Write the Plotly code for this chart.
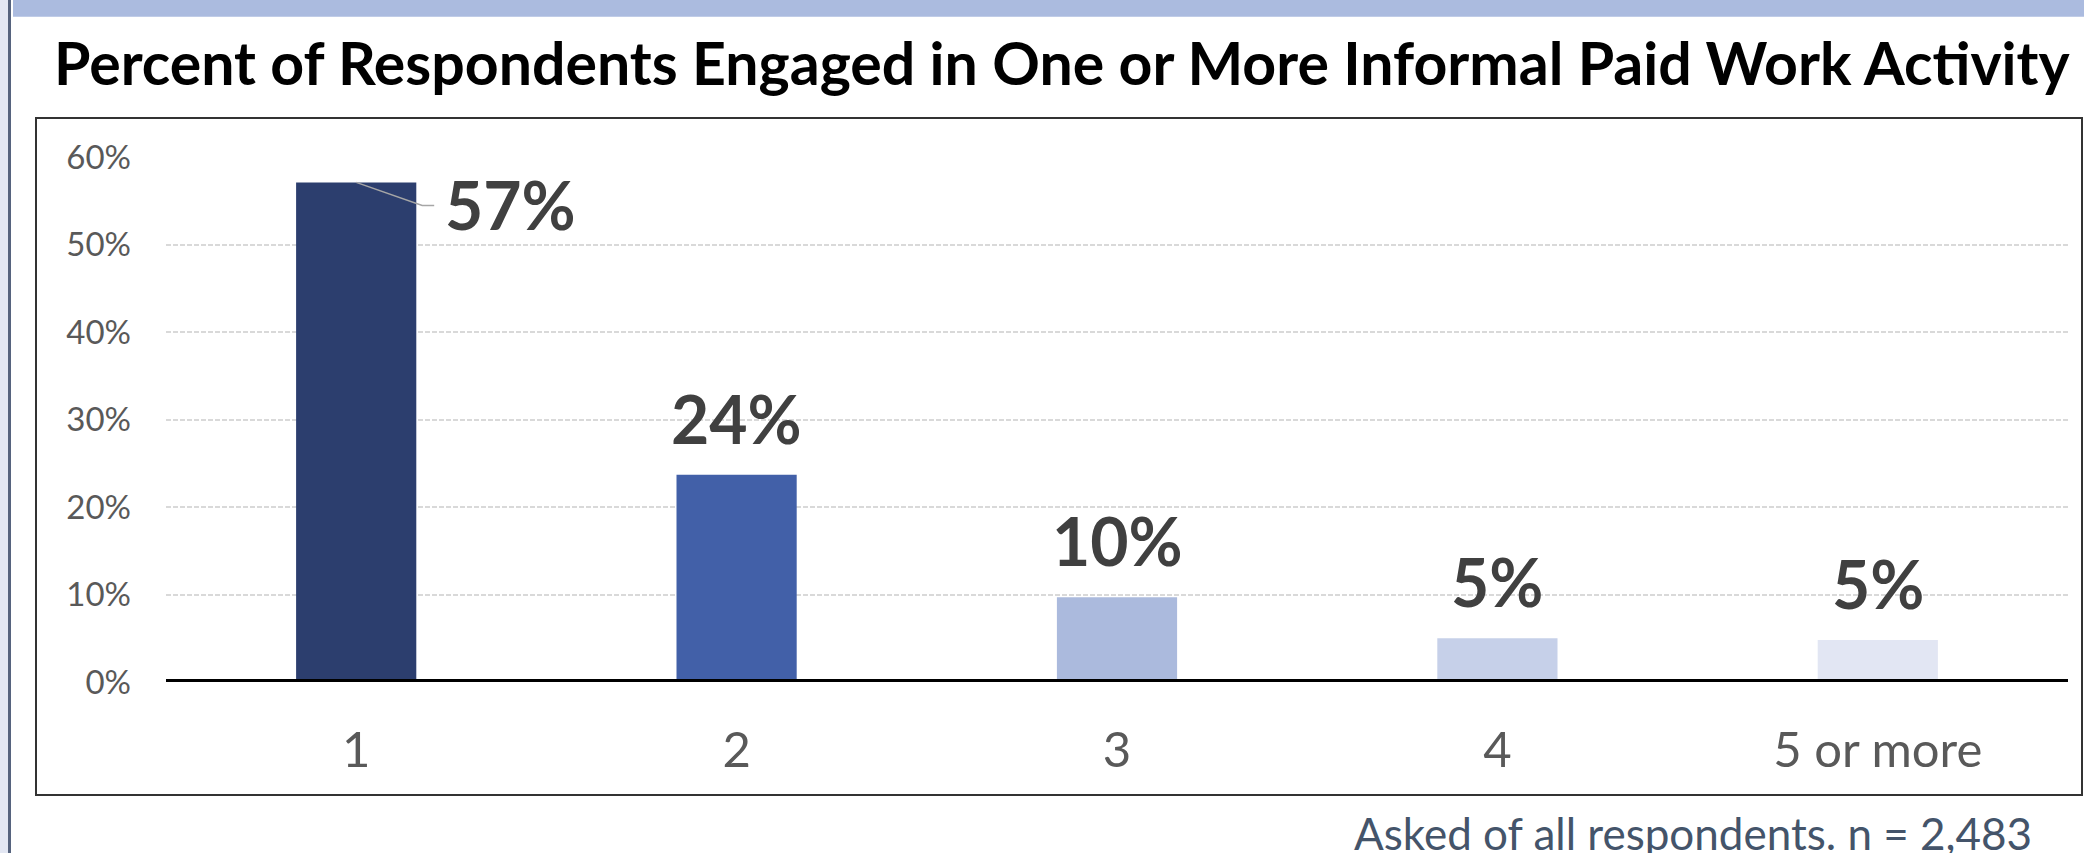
import plotly.graph_objects as go

# Survey results: number of informal paid work activities
categories = ["1", "2", "3", "4", "5 or more"]
percent = [57.1, 23.7, 9.7, 5.0, 4.8]
bar_colors = ["#2c3e6e", "#4260a8", "#abbadd", "#c6d0e9", "#e2e6f3"]
y_ticks = [0, 10, 20, 30, 40, 50, 60]
y_tick_text = [f"{v}%" for v in y_ticks]

title_text = "Percent of Respondents Engaged in One or More Informal Paid Work Activity"
note_text = "Asked of all respondents. n = 2,483"

W, H = 2084, 853
M_L, M_R, M_T, M_B = 166, 16, 157, 171
PW, PH = W - M_L - M_R, H - M_T - M_B


def px_x(px):
    return (px - M_L) / PW


def px_y(py):
    return (H - M_B - py) / PH


FONT = "Lato"

fig = go.Figure(
    go.Bar(
        x=categories,
        y=percent,
        marker=dict(color=bar_colors, line=dict(width=0)),
        width=0.316,
        hoverinfo="skip",
    )
)

annotations = []
# value labels above bars (first one sits to the right with a leader line);
# positions use the category index so numeric-looking names are not misread
for i, val in enumerate(percent):
    label = f"{round(val)}%"
    if i == 0:
        annotations.append(dict(
            x=i, y=val, xref="x", yref="y", text=f"<b>{label}</b>",
            showarrow=False, xanchor="left", yanchor="bottom",
            xshift=88, yshift=-63, borderpad=0,
            font=dict(family=FONT, size=66, color="#404040"),
        ))
    else:
        annotations.append(dict(
            x=i, y=val, xref="x", yref="y", text=f"<b>{label}</b>",
            showarrow=False, xanchor="center", yanchor="bottom",
            yshift=16, borderpad=0,
            font=dict(family=FONT, size=66, color="#404040"),
        ))

annotations.append(dict(
    x=px_x(1062), y=px_y(99), xref="paper", yref="paper",
    text=f"<b>{title_text}</b>", showarrow=False,
    xanchor="center", yanchor="bottom", borderpad=0,
    font=dict(family=FONT, size=59, color="#000000"),
))
annotations.append(dict(
    x=px_x(1353), y=px_y(860), xref="paper", yref="paper",
    text=note_text, showarrow=False,
    xanchor="left", yanchor="bottom", borderpad=0,
    font=dict(family=FONT, size=44, color="#44546a"),
))

shapes = [
    # left side strip and its dark edge
    dict(type="rect", xref="paper", yref="paper", x0=px_x(0), x1=px_x(8),
         y0=px_y(0), y1=px_y(H), fillcolor="#e3e7f3", line=dict(width=0), layer="below"),
    dict(type="rect", xref="paper", yref="paper", x0=px_x(8), x1=px_x(11),
         y0=px_y(0), y1=px_y(H), fillcolor="#56637e", line=dict(width=0), layer="below"),
    # top band
    dict(type="rect", xref="paper", yref="paper", x0=px_x(13), x1=px_x(W),
         y0=px_y(0), y1=px_y(16.7), fillcolor="#abbbdf", line=dict(width=0), layer="below"),
    # chart frame
    dict(type="rect", xref="paper", yref="paper", x0=px_x(36), x1=px_x(2082),
         y0=px_y(118), y1=px_y(795), fillcolor="rgba(0,0,0,0)",
         line=dict(color="#333333", width=2), layer="below"),
    # baseline
    dict(type="line", xref="paper", yref="y", x0=0, x1=1, y0=0, y1=0,
         line=dict(color="#000000", width=6), layer="above"),
    # leader line for the first label
    dict(type="path", xref="x", yref="y", xsizemode="pixel", ysizemode="pixel",
         xanchor=0, yanchor=percent[0],
         path="M0,0 L66,-23 L78,-23", line=dict(color="#a6a6a6", width=1.5),
         layer="above"),
]

fig.update_layout(
    width=W, height=H,
    margin=dict(l=M_L, r=M_R, t=M_T, b=M_B, pad=0),
    paper_bgcolor="#ffffff",
    plot_bgcolor="rgba(0,0,0,0)",
    showlegend=False,
    annotations=annotations,
    shapes=shapes,
    xaxis=dict(
        type="category",
        showgrid=False, zeroline=False, showline=False, ticks="",
        ticklabelstandoff=35,
        tickfont=dict(family=FONT, size=49, color="#595959"),
    ),
    yaxis=dict(
        range=[0, 60], tickvals=y_ticks, ticktext=y_tick_text,
        showgrid=True, gridcolor="#d9d9d9", gridwidth=1.5, griddash="5px,2px",
        zeroline=False, showline=False, ticks="",
        ticklabelstandoff=34,
        tickfont=dict(family=FONT, size=33, color="#595959"),
    ),
)

fig.write_html("out.html")
